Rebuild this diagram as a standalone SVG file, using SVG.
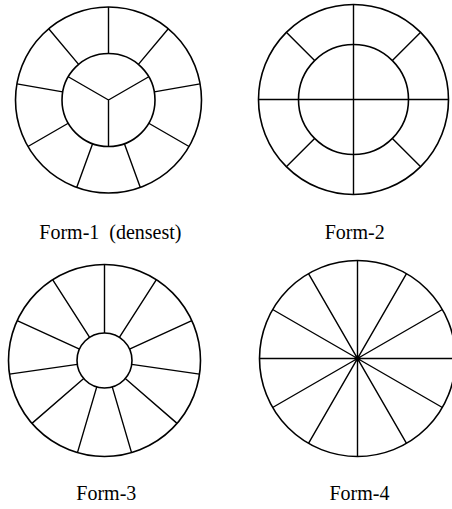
<svg xmlns="http://www.w3.org/2000/svg" width="452" height="509" viewBox="0 0 452 509">
<style>
.c{fill:none;stroke:#000;stroke-width:1.6}
.s{stroke:#000;stroke-width:1.4;fill:none}
.t{font-family:"Liberation Serif","Times New Roman",serif;font-size:20px;fill:#000;white-space:pre}
</style>
<rect width="452" height="509" fill="#fff"/>
<g id="form1">
<circle class="c" cx="108.5" cy="100" r="93"/>
<circle class="c" cx="108.5" cy="100" r="46.5"/>
<path class="s" d="M108.5,100L108.5,146.5M108.5,100L68.23,76.75M108.5,100L148.77,76.75
M108.5,53.5L108.5,7M138.39,64.38L168.28,28.76M154.29,91.93L200.09,83.85M148.77,123.25L189.04,146.5
M124.4,143.7L140.31,187.39M92.6,143.7L76.69,187.39M68.23,123.25L27.96,146.5M62.71,91.93L16.91,83.85M78.61,64.38L48.72,28.76"/>
<text class="t" x="39.3" y="238.5" xml:space="preserve">Form-1  (densest)</text>
</g>
<g id="form2">
<circle class="c" cx="353.5" cy="99.5" r="95"/>
<circle class="c" cx="353.5" cy="99.5" r="55"/>
<path class="s" d="M258.5,99.5H448.5M353.5,4.5V194.5
M392.39,60.61L420.68,32.32M314.61,60.61L286.32,32.32M392.39,138.39L420.68,166.68M314.61,138.39L286.32,166.68"/>
<text class="t" x="354.7" y="238.5" text-anchor="middle">Form-2</text>
</g>
<g id="form3">
<circle class="c" cx="104.5" cy="360.5" r="96"/>
<circle class="c" cx="104.5" cy="360.5" r="27.5"/>
<path class="s" d="M104.5,333L104.5,264.5M119.37,337.36L156.4,279.74M129.51,349.08L191.82,320.62M131.72,364.41L199.52,374.16
M125.28,378.51L177.05,423.37M112.25,386.89L131.54,452.61M96.75,386.89L77.46,452.61M83.72,378.51L31.95,423.37
M77.28,364.41L9.48,374.16M79.49,349.08L17.18,320.62M89.63,337.36L52.6,279.74"/>
<text class="t" x="106.3" y="500" text-anchor="middle">Form-3</text>
</g>
<g id="form4">
<circle class="c" cx="357.5" cy="358.5" r="98"/>
<path class="s" d="M259.5,358.5H455.5M442.37,407.5L272.63,309.5M406.5,443.37L308.5,273.63M357.5,260.5V456.5M308.5,443.37L406.5,273.63M272.63,407.5L442.37,309.5"/>
<circle cx="357.5" cy="358.5" r="2" fill="#000"/>
<text class="t" x="359.5" y="500" text-anchor="middle">Form-4</text>
</g>
</svg>
